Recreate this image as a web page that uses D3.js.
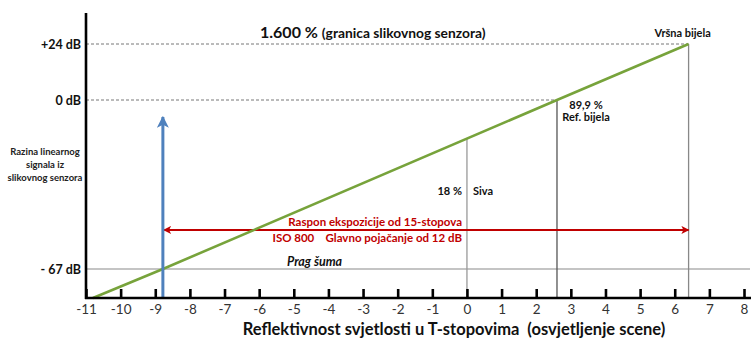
<!DOCTYPE html>
<html>
<head>
<meta charset="utf-8">
<script src="https://cdn.jsdelivr.net/npm/d3@7"></script>
<style>
  html, body { margin: 0; padding: 0; background: #fff; }
  svg { display: block; font-family: Lato, "Open Sans", sans-serif; }
</style>
</head>
<body>
<svg id="chart" width="753" height="342"></svg>
<script>
// Scene reflectance in T-stops (x) versus linear sensor signal level in dB (y)
const stopTicks = [-11, -10, -9, -8, -7, -6, -5, -4, -3, -2, -1, 0, 1, 2, 3, 4, 5, 6, 7, 8];
const dbLevels = [24, 0, -67];
const dbDashed = [24, 0];
// Sensor response line: [stops, dB]
const responseLine = [[-10.8, -79], [-8.78, -67], [2.6, 0], [6.4, 24]];
// Reference points: [stops, dB at line]
const noiseFloor = { stops: -8.78, db: -67 };
const midGrey = { stops: 0, db: -15.3, pct: "18 %", name: "Siva" };
const refWhite = { stops: 2.6, db: 0, pct: "89,9 %", name: "Ref. bijela" };
const peakWhite = { stops: 6.4, db: 24, name: "Vršna bijela" };
const rangeText = ["Raspon ekspozicije od 15-stopova", "ISO 800    Glavno pojačanje od 12 dB"];
const arrowDb = -51.5;

const svg = d3.select("#chart");

const x = d3.scaleLinear().domain([-11, 8]).range([86, 744]);
// schematic signal axis, piecewise linear
const y = d3.scaleLinear().domain([-79, -67, 0, 24]).range([298, 269, 100, 44]);

const defs = svg.append("defs");
function marker(id, color, w, h) {
  defs.append("marker").attr("id", id)
    .attr("viewBox", "0 0 10 10").attr("refX", 9).attr("refY", 5)
    .attr("markerWidth", w).attr("markerHeight", h)
    .attr("markerUnits", "userSpaceOnUse").attr("orient", "auto-start-reverse")
    .append("path").attr("d", "M0,0 L10,5 L0,10 L2.5,5 Z").attr("fill", color);
}
marker("arrRed", "#c00000", 11, 8);
marker("arrBlue", "#4f81bd", 12, 12);

// Level lines
svg.append("g").selectAll("line").data(dbDashed).join("line")
  .attr("x1", x(-11)).attr("x2", d => d === 24 ? x(peakWhite.stops) : x(refWhite.stops))
  .attr("y1", d => y(d)).attr("y2", d => y(d))
  .attr("stroke", "#777").attr("stroke-width", 1).attr("stroke-dasharray", "3,2");
svg.append("line")
  .attr("x1", x(-11)).attr("x2", 750)
  .attr("y1", y(-67)).attr("y2", y(-67))
  .attr("stroke", "#8a8a8a").attr("stroke-width", 1.2);

// Vertical markers down to the axis
svg.append("line").attr("x1", x(midGrey.stops)).attr("x2", x(midGrey.stops))
  .attr("y1", y(midGrey.db)).attr("y2", y(-79)).attr("stroke", "#999").attr("stroke-width", 1.3);
svg.append("line").attr("x1", x(refWhite.stops)).attr("x2", x(refWhite.stops))
  .attr("y1", y(refWhite.db)).attr("y2", y(-79)).attr("stroke", "#555").attr("stroke-width", 1.3);
svg.append("line").attr("x1", x(peakWhite.stops)).attr("x2", x(peakWhite.stops))
  .attr("y1", y(peakWhite.db)).attr("y2", y(-79)).attr("stroke", "#888").attr("stroke-width", 1.3);

// Exposure range arrow
svg.append("line")
  .attr("x1", x(noiseFloor.stops) + 1).attr("x2", x(peakWhite.stops))
  .attr("y1", y(arrowDb)).attr("y2", y(arrowDb))
  .attr("stroke", "#c00000").attr("stroke-width", 2)
  .attr("marker-start", "url(#arrRed)").attr("marker-end", "url(#arrRed)");

// Sensor response
svg.append("path").datum(responseLine)
  .attr("d", d3.line().x(d => x(d[0])).y(d => y(d[1])))
  .attr("fill", "none").attr("stroke", "#77a33b").attr("stroke-width", 2.6);

// Noise floor signal arrow
svg.append("line")
  .attr("x1", x(noiseFloor.stops)).attr("x2", x(noiseFloor.stops))
  .attr("y1", y(-79)).attr("y2", 117)
  .attr("stroke", "#4f81bd").attr("stroke-width", 3)
  .attr("marker-end", "url(#arrBlue)");

// Axes
const xAxis = d3.axisBottom(x).tickValues(stopTicks).tickSizeInner(-9).tickSizeOuter(0).tickPadding(6)
  .tickFormat(d => String(d));
const gx = svg.append("g").attr("transform", `translate(0,${y(-79)})`).call(xAxis);
gx.select(".domain").remove();
gx.selectAll(".tick line").attr("stroke", "#000").attr("stroke-width", 2.6);
gx.selectAll(".tick text").attr("font-size", 13.5).attr("fill", "#333").attr("font-family", "Lato, sans-serif");
svg.append("line").attr("x1", x(-11) - 1).attr("x2", 751).attr("y1", y(-79)).attr("y2", y(-79))
  .attr("stroke", "#000").attr("stroke-width", 2.6);

const yAxis = d3.axisLeft(y).tickValues(dbLevels).tickSize(0).tickPadding(5)
  .tickFormat(d => (d > 0 ? "+" : d < 0 ? "- " : "") + Math.abs(d) + " dB");
const gy = svg.append("g").attr("transform", `translate(${x(-11)},0)`).call(yAxis);
gy.select(".domain").remove();
gy.selectAll(".tick text").attr("font-size", 12.5).attr("font-weight", "bold").attr("fill", "#111").attr("font-family", "Lato, sans-serif");
svg.append("line").attr("x1", x(-11)).attr("x2", x(-11)).attr("y1", 13).attr("y2", y(-79) + 1)
  .attr("stroke", "#000").attr("stroke-width", 2.6);

// Texts
const title = svg.append("text").attr("x", 260).attr("y", 38).attr("fill", "#111").attr("font-weight", "bold");
title.append("tspan").attr("font-size", 16).text("1.600 % ");
title.append("tspan").attr("font-size", 13.8).text("(granica slikovnog senzora)");

svg.append("text").attr("x", x(peakWhite.stops) - 6).attr("y", 37).attr("text-anchor", "middle")
  .attr("font-size", 11).attr("font-weight", "bold").attr("fill", "#111").text(peakWhite.name);

svg.append("text").attr("x", x(refWhite.stops) + 29).attr("y", 109).attr("text-anchor", "middle")
  .attr("font-size", 11).attr("font-weight", "bold").attr("fill", "#111").text(refWhite.pct);
svg.append("text").attr("x", x(refWhite.stops) + 29).attr("y", 121).attr("text-anchor", "middle")
  .attr("font-size", 11).attr("font-weight", "bold").attr("fill", "#111").text(refWhite.name);

svg.append("text").attr("x", x(midGrey.stops) - 5).attr("y", 195).attr("text-anchor", "end")
  .attr("font-size", 11).attr("font-weight", "bold").attr("fill", "#111").text(midGrey.pct);
svg.append("text").attr("x", x(midGrey.stops) + 6).attr("y", 195)
  .attr("font-size", 11).attr("font-weight", "bold").attr("fill", "#111").text(midGrey.name);

svg.append("text").attr("x", 462).attr("y", 226).attr("text-anchor", "end")
  .attr("font-size", 11.5).attr("font-weight", "bold").attr("fill", "#c00000").text(rangeText[0]);
svg.append("text").attr("x", 462).attr("y", 242).attr("text-anchor", "end").attr("xml:space", "preserve")
  .attr("font-size", 11.5).attr("font-weight", "bold").attr("fill", "#c00000").text(rangeText[1]);

svg.append("text").attr("x", 287).attr("y", 266)
  .attr("font-size", 12.5).attr("font-weight", "bold").attr("font-style", "italic").attr("fill", "#111").text("Prag šuma");

const ylab = svg.append("text").attr("text-anchor", "middle").attr("font-size", 9.5)
  .attr("font-weight", "bold").attr("fill", "#222");
["Razina linearnog", "signala iz", "slikovnog senzora"].forEach((t, i) =>
  ylab.append("tspan").attr("x", 45).attr("y", 155 + i * 13).text(t));

svg.append("text").attr("x", 454).attr("y", 335).attr("text-anchor", "middle")
  .attr("font-size", 16.5).attr("fill", "#111").attr("font-weight", "bold").text("Reflektivnost svjetlosti u T-stopovima  (osvjetljenje scene)")
  .attr("xml:space", "preserve");
</script>
</body>
</html>
